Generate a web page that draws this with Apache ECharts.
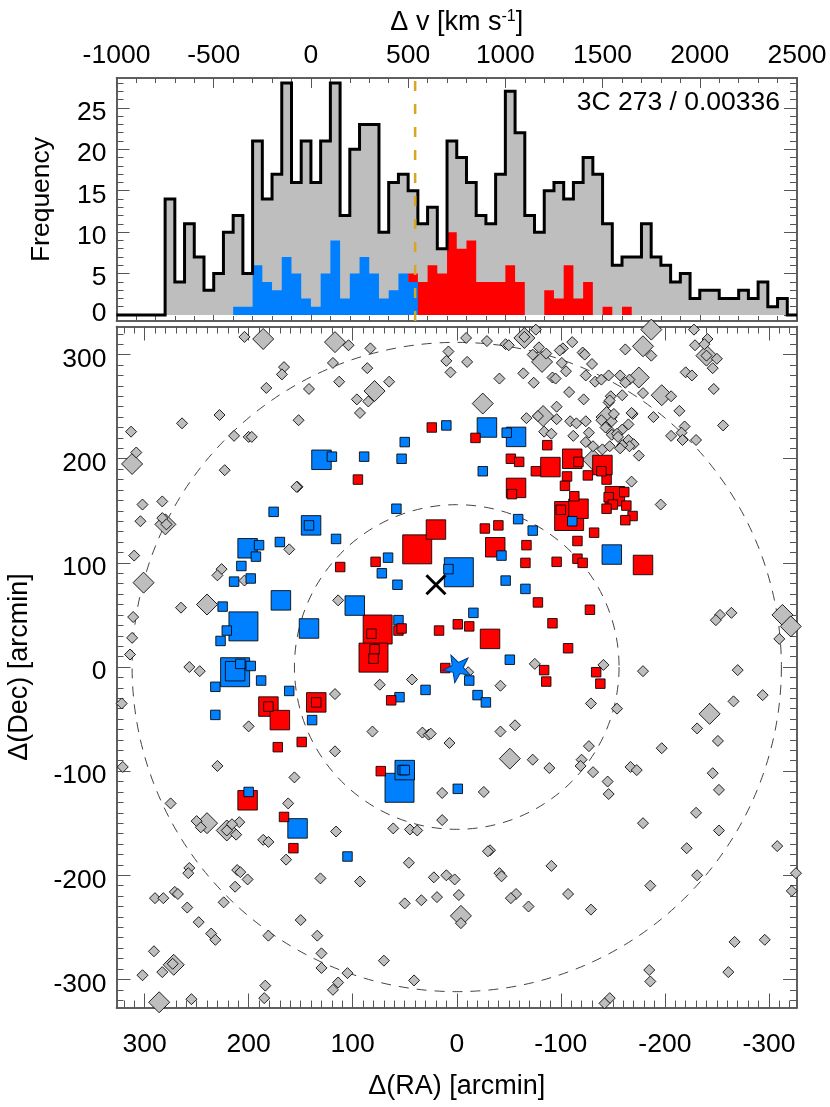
<!DOCTYPE html>
<html>
<head>
<meta charset="utf-8">
<style>html,body{margin:0;padding:0;background:#fff}#c{width:830px;height:1107px}</style>
<script src="https://cdn.jsdelivr.net/npm/echarts@6/dist/echarts.min.js"></script>
</head>
<body>
<div id="c"></div>
<script>
// ---- histogram data (bins of 50 km/s) ----
const binWidth = 50;
const totalStart = -750;
const totalCounts = [14,4,11,7,3,5,10,12,5,21,14,17,28,16,21,16,21,28,12,20,23,23,10,16,17,15,11,13,8,21,19,16,12,11,17,27,22,12,10,15,16,14,16,19,17,11,6,7,7,11,7,6,4,5,2,3,3,2,2,3,2,4,1,2,0];
const blueStart = -400;
const blueCounts = [1,1,6,4,3,7,5,2,1,5,9,2,5,7,5,2,3,5,4];
const redStart = 500;
const redCounts = [5,4,6,5,10,8,9,4,4,4,6,4,0,0,3,2,6,2,4,0,1,0,1];
const velocityMarker = 536;

// ---- sky positions: [dRA, dDec] in arcmin ----
const grayLarge = [[186,315],[117,312],[79,265],[312,195],[280,137],[301,81],[240,60],
[-65,316],[-82,293],[-179,308],[-240,299],[-175,278],[-197,261],[-25,253],[-83,241],[-144,240],[-313,50],[-321,39],[-187,324],[-131,199],
[240,-150],[221,-157],[272,-286],[286,-322],[113,-329],
[-243,-45],[-51,-88],[-4,-239],[-77,-328],[-91,-328]];
const graySmall = [[204,317],[104,309],[83,306],[8,303],[10,294],[6,283],[119,292],[86,287],[166,288],[168,281],[113,274],[65,274],[183,268],[142,267],[96,257],[85,255],[228,242],[264,234],[152,237],[93,244],[313,226],[214,222],[200,221],[197,221],[308,206],[223,189],[153,173],[154,173],[302,156],[283,159],[304,140],[283,143],[279,137],[161,113],[310,107],[226,94],[230,88],[204,83],[114,64],[265,57],[311,48],[312,28],[314,12],[74,330],
[-9,316],[-29,313],[-47,310],[-50,309],[-65,317],[-76,324],[-111,312],[-102,306],[-99,304],[-79,307],[-73,300],[-86,301],[-121,302],[-123,300],[-162,305],[-187,299],[-228,324],[-241,315],[-229,309],[-238,310],[-250,296],[-246,287],[-240,299],[-10,293],[-101,292],[-130,291],[-105,284],[-124,280],[-64,282],[-41,277],[-74,273],[-92,278],[-95,277],[-133,274],[-139,276],[-146,280],[-157,280],[-166,276],[-162,273],[-220,283],[-226,280],[-247,267],[-108,264],[-122,257],[-159,261],[-179,263],[-148,260],[-146,254],[-147,256],[-206,260],[-96,250],[-214,246],[-67,239],[-78,241],[-96,238],[-109,236],[-115,234],[-124,236],[-139,237],[-149,236],[-151,243],[-169,243],[-168,244],[-189,240],[-165,233],[-84,226],[-91,224],[-127,225],[-112,222],[-159,228],[-146,228],[-143,230],[-149,223],[-154,224],[-155,221],[-165,218],[-170,214],[-166,212],[-159,213],[-219,231],[-216,225],[-206,222],[-217,218],[-230,218],[-256,232],[-124,216],[-131,212],[-140,209],[-147,212],[-157,210],[-175,203],[-168,178],[-196,156],[-253,50],[-249,45],[-264,52],[-310,27],
[257,0],[247,-4],[74,-17],[43,-12],[117,-26],[322,-35],[81,-62],[33,-63],[27,-65],[25,-64],[7,-73],[200,-57],[117,-81],[321,-96],[230,-95],[156,-106],[275,-131],[162,-131],[14,-121],[250,-148],[246,-154],[209,-149],[216,-151],[212,-161],[221,-157],[14,-147],[61,-155],[45,-156],[38,-157],[116,-158],[186,-166],[181,-168],[164,-185],[46,-188],[257,-193],[258,-198],[211,-195],[208,-197],[201,-204],[213,-211],[131,-203],[93,-206],[22,-202],[10,-200],[290,-222],[282,-222],[271,-216],[268,-218],[259,-231],[224,-226],[50,-227],[34,-224],[19,-221],[248,-245],[150,-243],[236,-256],[232,-262],[181,-258],[134,-258],[291,-273],[130,-275],[273,-285],[283,-293],[302,-296],[130,-289],[105,-294],[70,-282],[41,-301],[184,-306],[114,-303],[119,-310],[185,-318],[255,-319],[28,-330],[328,-12],
[-75,3],[-141,2],[-179,-4],[-270,-3],[-294,-27],[-266,-33],[-42,-18],[-129,-35],[-154,-40],[-231,-59],[-251,-71],[-56,-56],[-42,-62],[-127,-76],[-197,-78],[-73,-89],[-120,-89],[-119,-95],[-89,-97],[-131,-101],[-167,-96],[-173,-99],[-246,-102],[-145,-110],[-252,-118],[-146,-122],[-26,-120],[-230,-140],[-179,-150],[-252,-157],[-221,-174],[-308,-172],[-32,-176],[-30,-177],[-41,-198],[-43,-201],[-91,-191],[2,-204],[-2,-219],[-231,-200],[-186,-210],[-322,-215],[-57,-218],[-52,-222],[-69,-230],[-107,-218],[-129,-233],[-4,-246],[-267,-264],[-296,-262],[-185,-291],[-261,-293],[-186,-302],[-147,-318],[-142,-323],[-326,-198],[-11,-5],[-207,-329]];
const blueHuge = [[205,39],[-2,91],[213,-5],[55,-116]];
const blueMid = [[130,199],[140,136],[201,114],[169,64],[98,59],[142,37],[-29,230],[-57,221],[-149,108],[213,-4],[50,-99],[153,-155]];
const blueSmall = [[10,232],[50,216],[120,202],[89,202],[53,200],[176,149],[58,152],[142,136],[116,123],[190,117],[170,120],[193,106],[66,105],[207,97],[72,90],[214,82],[198,85],[57,79],[8,94],[225,58],[56,45],[221,35],[227,25],
[-48,225],[-25,188],[-59,142],[-73,131],[-111,140],[-43,107],[-47,83],[-66,75],[-16,52],[-51,7],
[198,1],[208,3],[188,-13],[232,-19],[161,-23],[55,-29],[30,-22],[139,-51],[232,-46],[52,-99],[50,-99],[200,-120],[105,-182],[-1,-117],[-12,-13],[-20,-27],[-28,-34]];
const redHuge = [[38,113],[76,36],[80,9],[-108,145]];
const redMid = [[20,132],[-111,200],[-90,192],[-140,194],[-57,172],[-152,164],[-117,152],[-37,115],[-179,98],[-32,27],[181,-38],[170,-51],[135,-34],[201,-128]];
const redSmall = [[24,230],[95,180],[78,101],[112,96],[17,35],[82,32],[56,35],[53,37],[79,17],[80,8],
[-18,220],[-87,213],[-52,200],[-60,197],[-76,188],[-106,183],[-126,184],[-104,174],[-144,180],[-117,197],[-139,188],[-53,166],[-113,164],[-161,168],[-146,163],[-150,156],[-163,155],[-144,152],[-100,151],[-169,145],[-162,141],[-132,129],[-27,133],[-40,136],[-116,121],[-67,117],[-66,100],[-96,101],[-116,104],[-121,100],[-128,55],[-78,62],[-92,42],[-1,41],[-12,39],[-107,18],
[11,-1],[63,-32],[181,-38],[135,-34],[172,-77],[149,-72],[73,-100],[166,-144],[157,-174],[-84,-3],[-86,-14],[-134,-5],[-138,-16]];
const starPoint = [[0,0]];
const crossPoint = [[20,79]];
const circleRadii = [156,312];

// ---- axes: ticks and text ----
const velMajor = [-1000,-500,0,500,1000,1500,2000,2500];
const velMinor = [-900,-800,-700,-600,-400,-300,-200,-100,100,200,300,400,600,700,800,900,1100,1200,1300,1400,1600,1700,1800,1900,2100,2200,2300,2400];
const freqMajor = [0,5,10,15,20,25];
const freqMinor = [1,2,3,4,6,7,8,9,11,12,13,14,16,17,18,19,21,22,23,24,26,27,28];
const skyMajor = [-300,-200,-100,0,100,200,300];
const skyMinor = [];
for (let v = -320; v <= 320; v += 10) if (v % 100 !== 0) skyMinor.push(v);
const annotation = '3C 273 / 0.00336';

// ---- helpers ----
const FONT = '"Liberation Sans", Arial, sans-serif';
const TICK = '#555';
function axis(o) {
  const label = {show: true, customValues: o.ticks, margin: o.margin, fontFamily: FONT, fontSize: 26.5, color: '#000', hideOverlap: false, showMinLabel: true, showMaxLabel: true, formatter: o.fmt || (v => String(v))};
  if (o.rich) label.rich = o.rich;
  return {
    type: 'value', gridIndex: o.grid, position: o.pos, min: o.min, max: o.max, inverse: !!o.inverse,
    name: o.name || '', nameLocation: 'middle', nameGap: o.nameGap || 0,
    nameTextStyle: o.nameStyle || {fontFamily: FONT, fontSize: o.nameSize || 27, color: '#000'},
    splitLine: {show: false},
    axisLine: {show: true, onZero: false, lineStyle: {color: TICK, width: 1.5}},
    axisTick: {show: true, inside: true, length: o.len, customValues: o.ticks, lineStyle: {color: TICK, width: 1}},
    axisLabel: o.labels ? label : {show: false}
  };
}
function hist(start, counts) {
  const pts = counts.map((c, i) => [start + i * binWidth, c]);
  pts.push([start + counts.length * binWidth, counts[counts.length - 1]]);
  return pts;
}
const V = {min: -1000, max: 2500}, F = {min: -0.72, max: 28.6}, S = {min: -327, max: 327};
const freqRich = {
  n: {fontFamily: FONT, fontSize: 26.5, color: '#000', padding: [9,0,0,0]},
  z: {fontFamily: FONT, fontSize: 26.5, color: '#000', padding: [0,0,3,0]}
};
const skyRich = {
  n: {fontFamily: FONT, fontSize: 26.5, color: '#000', padding: [10,0,0,0]}
};

const xAxes = [
  axis({grid:0,pos:'top',...V,ticks:velMajor,len:10,labels:true,margin:9,name:'{a|Δ v [km s}{s|-1}{a|]}',nameGap:41,
    nameStyle:{rich:{a:{fontFamily:FONT,fontSize:27,color:'#000'},s:{fontFamily:FONT,fontSize:16,color:'#000',padding:[0,0,12,0]}}}}),
  axis({grid:0,pos:'top',...V,ticks:velMinor,len:5}),
  axis({grid:0,pos:'bottom',...V,ticks:velMajor,len:10}),
  axis({grid:0,pos:'bottom',...V,ticks:velMinor,len:5}),
  axis({grid:1,pos:'bottom',...S,inverse:true,ticks:skyMajor,len:14,labels:true,margin:24,name:'Δ(RA) [arcmin]',nameGap:66}),
  axis({grid:1,pos:'bottom',...S,inverse:true,ticks:skyMinor,len:7}),
  axis({grid:1,pos:'top',...S,inverse:true,ticks:skyMajor,len:14}),
  axis({grid:1,pos:'top',...S,inverse:true,ticks:skyMinor,len:7})
];
const yAxes = [
  axis({grid:0,pos:'left',...F,ticks:freqMajor,len:13,labels:true,margin:10,name:'Frequency',nameGap:61,nameSize:26.5,rich:freqRich,fmt:v => v === 0 ? '{z|0}' : '{n|' + v + '}'}),
  axis({grid:0,pos:'left',...F,ticks:freqMinor,len:7}),
  axis({grid:0,pos:'right',...F,ticks:freqMajor,len:13}),
  axis({grid:0,pos:'right',...F,ticks:freqMinor,len:7}),
  axis({grid:1,pos:'left',...S,ticks:skyMajor,len:14,labels:true,margin:10,rich:skyRich,fmt:v => '{n|' + v + '}',name:'Δ(Dec) [arcmin]',nameGap:83}),
  axis({grid:1,pos:'left',...S,ticks:skyMinor,len:7}),
  axis({grid:1,pos:'right',...S,ticks:skyMajor,len:14}),
  axis({grid:1,pos:'right',...S,ticks:skyMinor,len:7})
];

function histSeries(data, fill, line) {
  return {type:'line', xAxisIndex:0, yAxisIndex:0, step:'end', data, showSymbol:false, symbol:'none', silent:true, animation:false,
    areaStyle:{color:fill, opacity:1},
    lineStyle: line ? {color:'#000', width:3, join:'miter', cap:'butt'} : {width:0, opacity:0}};
}
function marks(data, symbol, size, color) {
  return {type:'scatter', xAxisIndex:4, yAxisIndex:4, data, symbol, symbolSize:size, silent:true, animation:false,
    itemStyle:{color, opacity:1, borderColor:'rgba(0,0,0,0.85)', borderWidth:1}};
}
const BLUE = '#0080FF', RED = '#FF0000', GRAY = '#BEBEBE';
const STAR = 'path://M0 -10L2.35 -3.24L9.51 -3.09L3.8 1.24L5.88 8.09L0 4L-5.88 8.09L-3.8 1.24L-9.51 -3.09L-2.35 -3.24Z';
const CROSS = 'path://M0 0L10 10M10 0L0 10';

const series = [
  histSeries(hist(-1000, new Array((totalStart + 1000) / binWidth).fill(0).concat(totalCounts)), GRAY, true),
  histSeries(hist(redStart, redCounts), RED, false),
  histSeries(hist(blueStart, blueCounts), BLUE, false),
  {type:'line', xAxisIndex:0, yAxisIndex:0, data:[[velocityMarker,F.min],[velocityMarker,F.max]], showSymbol:false, symbol:'none', silent:true, animation:false,
    lineStyle:{color:'#DAA520', width:2.5, type:[10,13]}},
  {type:'custom', xAxisIndex:4, yAxisIndex:4, silent:true, animation:false, clip:false,
    data: circleRadii.map(r => [0,0,r]),
    encode:{x:0,y:1},
    renderItem:(p, api) => {
      const c = api.coord([api.value(0), api.value(1)]);
      const r = api.size([api.value(2), 0])[0];
      return {type:'circle', shape:{cx:c[0], cy:c[1], r}, style:{fill:null, stroke:'#444', lineWidth:1, lineDash:[10,8]}};
    }},
  marks(grayLarge,'diamond',21,GRAY),
  marks(graySmall,'diamond',11,GRAY),
  marks(blueHuge,'rect',29,BLUE),
  marks(redHuge,'rect',29,RED),
  marks(blueMid,'rect',19.5,BLUE),
  marks(redMid,'rect',19.5,RED),
  marks(blueSmall,'rect',9.5,BLUE),
  marks(redSmall,'rect',9.5,RED),
  {type:'scatter', xAxisIndex:4, yAxisIndex:4, data:starPoint, symbol:STAR, symbolSize:28, symbolKeepAspect:true, symbolRotate:26, silent:true, animation:false,
    itemStyle:{color:BLUE, opacity:1, borderColor:'#003a80', borderWidth:1}},
  {type:'scatter', xAxisIndex:4, yAxisIndex:4, data:crossPoint, symbol:CROSS, symbolSize:19, silent:true, animation:false,
    itemStyle:{color:'none', opacity:1, borderColor:'#000', borderWidth:3}}
];

const chart = echarts.init(document.getElementById('c'), null, {renderer:'canvas'});
chart.setOption({
  animation:false,
  backgroundColor:'#fff',
  grid:[
    {left:116.5, right:33, top:78, height:243, containLabel:false, outerBoundsMode:'none'},
    {left:116.5, right:33, top:326.5, height:681, containLabel:false, outerBoundsMode:'none'}
  ],
  xAxis:xAxes, yAxis:yAxes, series,
  graphic:[{type:'text', x:780, y:103, style:{text:annotation, font:'26.5px '+FONT, fill:'#000', align:'right', verticalAlign:'middle'}}]
});
</script>
</body>
</html>
